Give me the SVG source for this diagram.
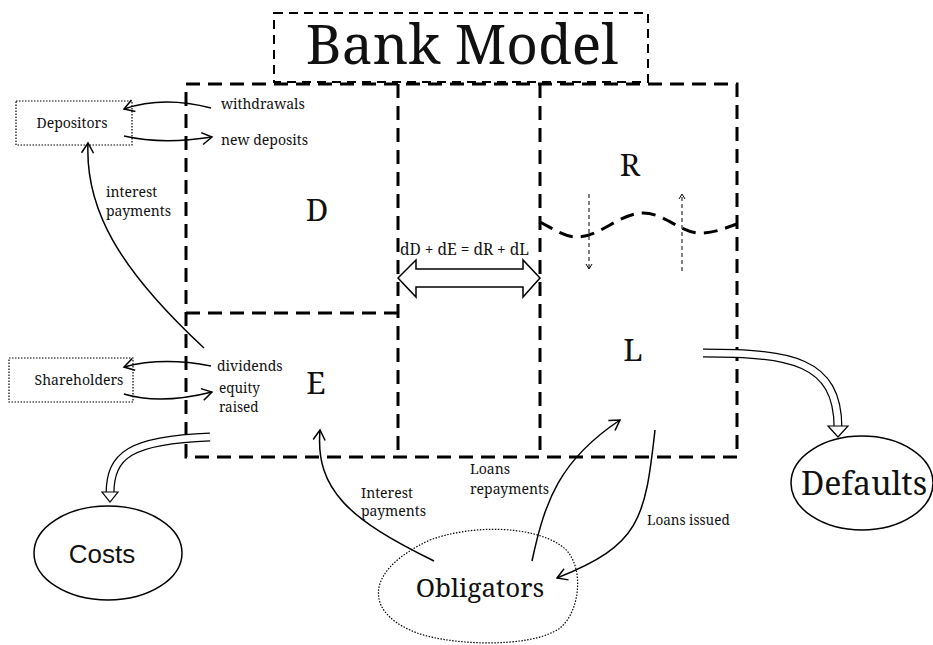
<svg xmlns="http://www.w3.org/2000/svg" width="933" height="645" viewBox="0 0 933 645">
<defs>
<style>
.serif{font-family:"Noto Serif","DejaVu Serif","Liberation Serif",serif;fill:#111}
.sans{font-family:"Liberation Sans","Noto Sans",sans-serif;fill:#111}
.box{fill:none;stroke:#000;stroke-width:3;stroke-dasharray:14 8}
.thin{fill:none;stroke:#000;stroke-width:1.5}
.dot{fill:none;stroke:#000;stroke-width:1.2;stroke-dasharray:1.5 1.5}
.outer{fill:none;stroke:#000;stroke-width:9}
.inner{fill:none;stroke:#fff;stroke-width:6.5}
</style>
<marker id="ah" markerWidth="14" markerHeight="14" refX="11" refY="7" orient="auto" markerUnits="userSpaceOnUse">
<path d="M1,1 L11,7 L1,13" fill="none" stroke="#000" stroke-width="1.5"/>
</marker>
<marker id="sah" markerWidth="8" markerHeight="8" refX="6" refY="4" orient="auto" markerUnits="userSpaceOnUse">
<path d="M1,1 L6,4 L1,7" fill="none" stroke="#000" stroke-width="1"/>
</marker>
</defs>
<rect width="933" height="645" fill="#fff"/>

<g id="title">
<rect x="274" y="13" width="374" height="69" fill="none" stroke="#000" stroke-width="2" stroke-dasharray="9 6"/>
<text x="462" y="64" class="serif" font-size="55" text-anchor="middle">Bank Model</text>
</g>

<g id="bank">
<rect x="186" y="84" width="551" height="373" class="box"/>
<line x1="398" y1="84" x2="398" y2="457" class="box"/>
<line x1="540" y1="84" x2="540" y2="457" class="box"/>
<line x1="186" y1="313" x2="398" y2="313" class="box"/>
<path d="M540,222 C555,230 565,237 577,237 C600,237 620,213 643,213 C665,213 680,233 700,233 C715,233 725,228 737,224" class="box"/>
</g>

<g id="D"><text x="317" y="221" class="serif" font-size="31" text-anchor="middle">D</text></g>
<g id="E"><text x="316" y="394" class="serif" font-size="31" text-anchor="middle">E</text></g>
<g id="R"><text x="630" y="176" class="serif" font-size="31" text-anchor="middle">R</text></g>
<g id="L"><text x="633" y="361" class="serif" font-size="31" text-anchor="middle">L</text></g>

<g id="depositors">
<rect x="16" y="101" width="116" height="44" class="dot"/>
<text x="72" y="128" class="serif" font-size="14" text-anchor="middle">Depositors</text>
</g>
<g id="shareholders">
<rect x="9" y="358" width="124" height="44" class="dot"/>
<text x="79" y="385" class="serif" font-size="14" text-anchor="middle">Shareholders</text>
</g>
<g id="costs">
<ellipse cx="108" cy="553" rx="74" ry="47" fill="none" stroke="#000" stroke-width="1.5"/>
<text x="102" y="563" class="sans" font-size="26" text-anchor="middle">Costs</text>
</g>
<g id="defaults">
<ellipse cx="862" cy="483" rx="71" ry="47" fill="none" stroke="#000" stroke-width="1.5"/>
<text x="864" y="495" class="serif" font-size="32" text-anchor="middle">Defaults</text>
</g>
<g id="obligators">
<path d="M430,540 C470,525 530,525 560,545 C585,560 582,610 560,628 C530,650 440,645 410,630 C365,610 365,570 430,540 Z" class="dot"/>
<text x="480" y="597" class="serif" font-size="26" text-anchor="middle">Obligators</text>
</g>

<g id="connectors">
<path d="M211,108 C180,100 150,100 124,109" class="thin" marker-end="url(#ah)"/>
<path d="M124,136 C150,142 180,142 212,137" class="thin" marker-end="url(#ah)"/>
<path d="M204,348 C120,270 85,210 88,143" class="thin" marker-end="url(#ah)"/>
<path d="M211,366 C180,360 150,360 124,367" class="thin" marker-end="url(#ah)"/>
<path d="M124,394 C150,402 180,400 212,392" class="thin" marker-end="url(#ah)"/>
<path d="M434,561 C350,520 315,490 320,430" class="thin" marker-end="url(#ah)"/>
<path d="M532,561 C545,500 560,460 620,420" class="thin" marker-end="url(#ah)"/>
<path d="M655,430 C645,520 640,545 557,578" class="thin" marker-end="url(#ah)"/>
<line x1="589" y1="194" x2="589" y2="269" stroke="#000" stroke-width="1" stroke-dasharray="4 3" marker-end="url(#sah)"/>
<line x1="682" y1="271" x2="682" y2="194" stroke="#000" stroke-width="1" stroke-dasharray="4 3" marker-end="url(#sah)"/>
<path d="M210,437 C130,440 110,455 110,494" class="outer"/>
<path d="M210,437 C130,440 110,455 110,494" class="inner"/>
<path d="M102,492 L118,492 L110,502 Z" fill="#fff" stroke="#000" stroke-width="1.2"/>
<path d="M703,353 C790,353 838,360 838,428" class="outer"/>
<path d="M703,353 C790,353 838,360 838,428" class="inner"/>
<path d="M828,426 L848,426 L838,437 Z" fill="#fff" stroke="#000" stroke-width="1.2"/>
<path d="M398,278 L416,260 L416,269 L523,269 L523,260 L540,278 L523,297 L523,287 L416,287 L416,297 Z" fill="#fff" stroke="#000" stroke-width="1.5"/>
</g>

<g id="labels" class="serif" font-size="14">
<text x="221" y="109">withdrawals</text>
<text x="221" y="145">new deposits</text>
<text x="106" y="197">interest</text>
<text x="106" y="216">payments</text>
<text x="217" y="371">dividends</text>
<text x="219" y="393" font-size="13.5">equity</text>
<text x="219" y="412" font-size="13.5">raised</text>
<text x="361" y="498">Interest</text>
<text x="361" y="516">payments</text>
<text x="470" y="474">Loans</text>
<text x="470" y="494">repayments</text>
<text x="647" y="525" font-size="13.5">Loans issued</text>
<text x="400" y="255" font-size="15.5">dD + dE = dR + dL</text>
</g>
</svg>
